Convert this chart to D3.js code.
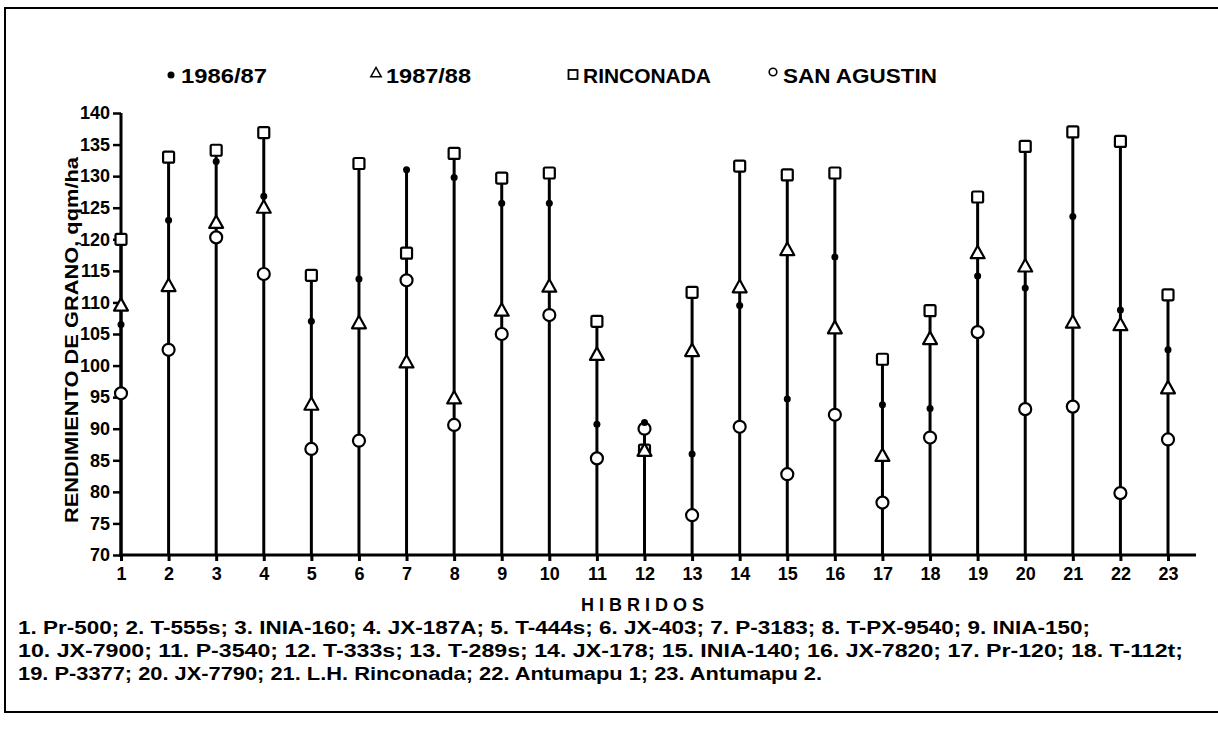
<!DOCTYPE html>
<html><head><meta charset="utf-8">
<script src="https://cdn.jsdelivr.net/npm/d3@7"></script>
<style>body{margin:0;background:#fff}svg{display:block}text{font-family:"Liberation Sans",Arial,sans-serif;font-weight:bold;fill:#000}</style>
</head><body>
<svg id="c" width="1218" height="734"></svg>
<script>
const hybrids = d3.range(1, 24);
const s8687 = [106.5,123,132.3,126.8,107,113.7,131,129.8,125.7,125.7,90.7,91,86,109.5,94.7,117.2,93.8,93.2,114.2,112.3,123.6,108.8,102.5];
const s8788 = [109.5,112.6,122.6,125,93.8,106.7,100.5,94.8,108.7,112.5,101.7,86.5,102.3,112.4,118.3,105.9,85.7,104.2,117.8,115.7,106.8,106.4,96.4];
const rinconada = [120,133,134.1,136.9,114.3,132,117.8,133.6,129.7,130.5,107,86.6,111.6,131.6,130.2,130.5,101,108.7,126.7,134.7,137,135.5,111.2];
const sanAgustin = [95.6,102.5,120.3,114.5,86.8,88.1,113.5,90.6,105,108,85.3,90,76.3,90.3,82.8,92.2,78.3,88.6,105.3,93.1,93.5,79.8,88.3];
const yTicks = d3.range(70, 141, 5);
const legendLabels = ["1986/87","1987/88","RINCONADA","SAN AGUSTIN"];
const footnotes = [
 "1. Pr-500; 2. T-555s; 3. INIA-160; 4. JX-187A; 5. T-444s; 6. JX-403; 7. P-3183; 8. T-PX-9540; 9. INIA-150;",
 "10. JX-7900; 11. P-3540; 12. T-333s; 13. T-289s; 14. JX-178; 15. INIA-140; 16. JX-7820; 17. Pr-120; 18. T-112t;",
 "19. P-3377; 20. JX-7790; 21. L.H. Rinconada; 22. Antumapu 1; 23. Antumapu 2."
];

const svg = d3.select("#c");
const x = d3.scaleLinear().domain([1, 23]).range([121, 1168]);
const y = d3.scaleLinear().domain([70, 140]).range([555, 113]);

svg.append("path").attr("d","M1218,8 H5 V712 H1218").attr("fill","none").attr("stroke","#000").attr("stroke-width",2);

const ya = svg.append("g").attr("transform","translate(121,0)")
  .call(d3.axisLeft(y).tickValues(yTicks).tickSize(8).tickPadding(3).tickFormat(d3.format("d")));
ya.select(".domain").attr("stroke-width",3).attr("d",`M0,${y(140)}V${y(70)}`);
ya.selectAll(".tick line").attr("stroke-width",2.5);
ya.selectAll("text").attr("font-size",18).attr("font-family","Liberation Sans").attr("font-weight","bold");

const xa = svg.append("g").attr("transform",`translate(0,${y(70)})`)
  .call(d3.axisBottom(x).tickValues(hybrids).tickSize(6).tickPadding(6).tickFormat(d3.format("d")));
xa.select(".domain").attr("stroke-width",3).attr("d","M119,0H1196");
xa.selectAll(".tick line").attr("stroke-width",3);
xa.selectAll("text").attr("font-size",18).attr("font-family","Liberation Sans").attr("font-weight","bold");

const data = hybrids.map((h,i)=>({h, a:s8687[i], b:s8788[i], r:rinconada[i], s:sanAgustin[i]}));
svg.append("g").selectAll("line").data(data).join("line")
  .attr("x1",d=>x(d.h)).attr("x2",d=>x(d.h))
  .attr("y1",y(70)).attr("y2",d=>y(Math.max(d.a,d.b,d.r,d.s)))
  .attr("stroke","#000").attr("stroke-width",3);

const g = svg.append("g");
g.selectAll("rect.r").data(data).join("rect").attr("class","r")
  .attr("x",d=>x(d.h)-5.5).attr("y",d=>y(d.r)-5.5).attr("width",11).attr("height",11).attr("rx",1.5)
  .attr("fill","#fff").attr("stroke","#000").attr("stroke-width",2.2);
g.selectAll("circle.s").data(data).join("circle").attr("class","s")
  .attr("cx",d=>x(d.h)).attr("cy",d=>y(d.s)).attr("r",6)
  .attr("fill","#fff").attr("stroke","#000").attr("stroke-width",2.2);
const tri = (cx,cy,s)=>`M${cx},${cy-s*0.62}L${cx+s*0.58},${cy+s*0.42}L${cx-s*0.58},${cy+s*0.42}Z`;
g.selectAll("path.b").data(data).join("path").attr("class","b")
  .attr("d",d=>tri(x(d.h),y(d.b),12))
  .attr("fill","#fff").attr("stroke","#000").attr("stroke-width",2.2).attr("stroke-linejoin","round");
g.selectAll("circle.a").data(data).join("circle").attr("class","a")
  .attr("cx",d=>x(d.h)).attr("cy",d=>y(d.a)).attr("r",3.5).attr("fill","#000");

svg.append("text").attr("transform",`translate(78,340) rotate(-90)`)
  .attr("text-anchor","middle").attr("font-size",19)
  .attr("textLength",366).attr("lengthAdjust","spacingAndGlyphs").text("RENDIMIENTO DE GRANO, qqm/ha");

const lg = svg.append("g");
const lx = [171, 376, 573, 773], ly = 83, lw = [86, 85, 128, 154];
lg.append("circle").attr("cx",lx[0]).attr("cy",ly-8).attr("r",3.5).attr("fill","#000");
lg.append("path").attr("d",tri(lx[1],ly-10,9)).attr("fill","none").attr("stroke","#000").attr("stroke-width",1.5);
lg.append("rect").attr("x",lx[2]-4.5).attr("y",ly-13).attr("width",9).attr("height",9).attr("fill","none").attr("stroke","#000").attr("stroke-width",1.8);
lg.append("circle").attr("cx",lx[3]).attr("cy",ly-11).attr("r",3.8).attr("fill","none").attr("stroke","#000").attr("stroke-width",1.6);
legendLabels.forEach((t,i)=>lg.append("text").attr("x",lx[i]+10).attr("y",ly).attr("font-size",20)
  .attr("textLength",lw[i]).attr("lengthAdjust","spacingAndGlyphs").text(t));

svg.append("text").attr("x",645).attr("y",611).attr("text-anchor","middle").attr("font-size",18)
  .attr("letter-spacing","5px").text("HIBRIDOS");

const fw = [1072, 1165, 804];
footnotes.forEach((t,i)=>svg.append("text").attr("x",18).attr("y",634+i*23).attr("font-size",19)
  .attr("textLength",fw[i]).attr("lengthAdjust","spacingAndGlyphs").text(t));
</script>
</body></html>
